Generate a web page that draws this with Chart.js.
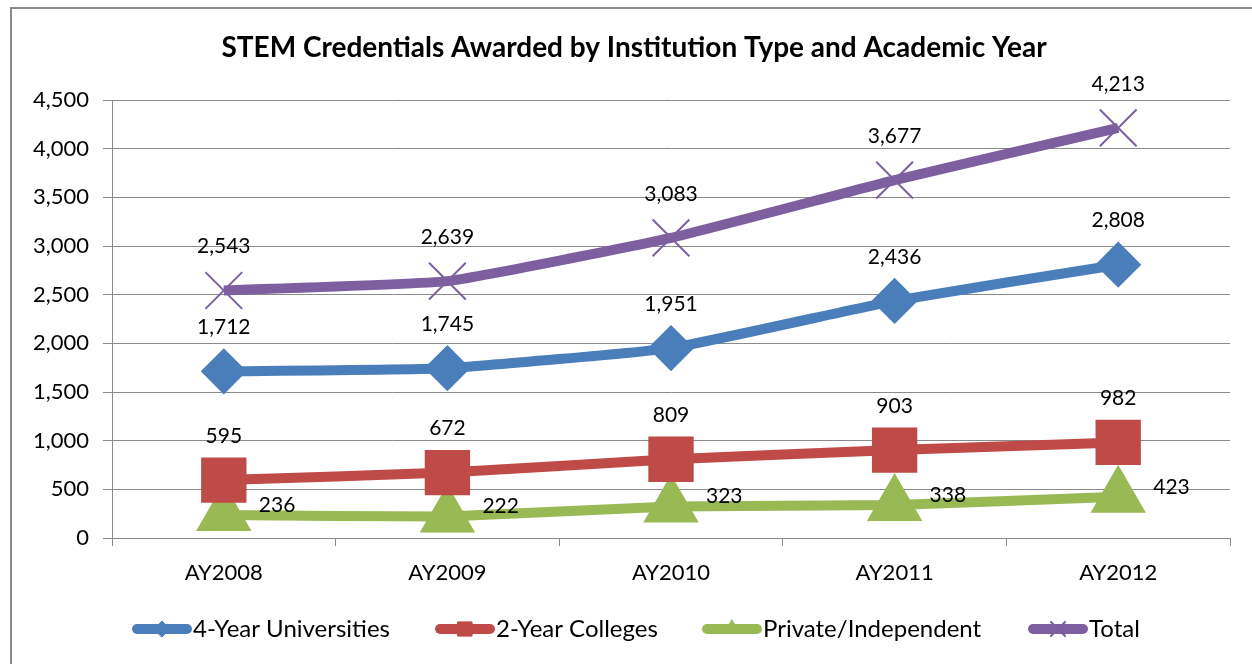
<!DOCTYPE html>
<html>
<head>
<meta charset="utf-8">
<script src="https://cdn.jsdelivr.net/npm/chart.js@4.4.1/dist/chart.umd.min.js"></script>
<style>
  body { margin: 0; background: #fff; }
  canvas { display: block; }
</style>
</head>
<body>
<canvas id="stemChart" width="1252" height="664"></canvas>
<script>
const years = ['AY2008', 'AY2009', 'AY2010', 'AY2011', 'AY2012'];
const fourYear = [1712, 1745, 1951, 2436, 2808];
const twoYear = [595, 672, 809, 903, 982];
const privateInd = [236, 222, 323, 338, 423];
const total = [2543, 2639, 3083, 3677, 4213];
const yTicks = [0, 500, 1000, 1500, 2000, 2500, 3000, 3500, 4000, 4500];

const FONT = 'Lato, "Open Sans", sans-serif';
const fmt = (v) => v.toLocaleString('en-US');

// frame, title, data labels and legend drawn by hand (Excel look)
const excelBits = {
    id: 'excelBits',
    beforeDraw: function(chart){
        const ctx = chart.ctx;
        ctx.save();
        ctx.strokeStyle = '#8a8a8a';
        ctx.lineWidth = 2;
        ctx.strokeRect(11, 8, 1300, 700);
        ctx.fillStyle = '#000';
        ctx.font = 'bold 28px ' + FONT;
        ctx.textAlign = 'center';
        ctx.textBaseline = 'middle';
        ctx.fillText('STEM Credentials Awarded by Institution Type and Academic Year', 634, 48);
        ctx.restore();
    },
    afterDatasetsDraw: function(chart){
        const ctx = chart.ctx;
        ctx.save();
        ctx.font = '21px ' + FONT;
        ctx.textBaseline = 'middle';
        chart.data.datasets.forEach((ds, i) => {
            const meta = chart.getDatasetMeta(i);
            meta.data.forEach((pt, j) => {
                const txt = fmt(ds.data[j]);
                ctx.fillStyle = '#000';
                if (ds.labelSide === 'right') {
                    ctx.textAlign = 'left';
                    ctx.fillText(txt, pt.x + 35, pt.y - 10);
                } else {
                    ctx.textAlign = 'center';
                    ctx.fillText(txt, pt.x, pt.y - 44);
                }
            });
        });

        // legend
        const ly = 629;
        const starts = [132, 435, 702, 1028];
        ctx.font = '24px ' + FONT;
        ctx.textAlign = 'left';
        chart.data.datasets.forEach((ds, i) => {
            const x0 = starts[i];
            ctx.strokeStyle = ds.borderColor;
            ctx.fillStyle = ds.borderColor;
            ctx.lineWidth = 10;
            ctx.lineCap = 'round';
            ctx.beginPath();
            ctx.moveTo(x0 + 5, ly);
            ctx.lineTo(x0 + 55, ly);
            ctx.stroke();
            ctx.lineWidth = ds.pointBorderWidth || 1;
            Chart.helpers.drawPoint(ctx, {
                pointStyle: ds.pointStyle,
                radius: ds.legendRadius,
                borderWidth: ds.pointBorderWidth || 1
            }, x0 + 30, ly);
            ctx.fillStyle = '#000';
            ctx.fillText(ds.label, x0 + 61, ly);
        });
        ctx.restore();
    }
};

const ctx = document.getElementById('stemChart').getContext('2d');

new Chart(ctx, {
    type: 'line',
    data: {
        labels: years,
        datasets: [
            {
                label: '4-Year Universities',
                data: fourYear,
                borderColor: '#4a7ebb',
                backgroundColor: '#4a7ebb',
                pointStyle: 'rectRot',
                pointRadius: 16,
                legendRadius: 8,
                labelSide: 'top'
            },
            {
                label: '2-Year Colleges',
                data: twoYear,
                borderColor: '#be4b48',
                backgroundColor: '#be4b48',
                pointStyle: 'rect',
                pointRadius: 25,
                legendRadius: 10,
                labelSide: 'top'
            },
            {
                label: 'Private/Independent',
                data: privateInd,
                borderColor: '#98b954',
                backgroundColor: '#98b954',
                pointStyle: 'triangle',
                pointRadius: 22,
                legendRadius: 9,
                labelSide: 'right'
            },
            {
                label: 'Total',
                data: total,
                borderColor: '#7d5fa0',
                backgroundColor: '#7d5fa0',
                pointStyle: 'crossRot',
                pointRadius: 26,
                pointBorderWidth: 2,
                legendRadius: 10,
                labelSide: 'top'
            }
        ].map((d) => Object.assign({
            borderWidth: 10,
            tension: 0.12,
            fill: false,
            pointHoverRadius: d.pointRadius
        }, d))
    },
    options: {
        responsive: false,
        animation: false,
        layout: {
            autoPadding: false,
            padding: { top: 100, right: 22, bottom: 76, left: 0 }
        },
        plugins: {
            legend: { display: false },
            title: { display: false },
            tooltip: { enabled: false }
        },
        scales: {
            x: {
                offset: true,
                grid: {
                    display: true,
                    drawOnChartArea: false,
                    offset: true,
                    tickLength: 8,
                    color: '#8a8a8a'
                },
                border: { color: '#8a8a8a', width: 1 },
                ticks: {
                    color: '#000',
                    padding: 14,
                    font: { family: FONT, size: 22 }
                },
                afterFit: function(scale){
                    scale.height = 50;
                    scale.paddingLeft = 0;
                    scale.paddingRight = 0;
                }
            },
            y: {
                min: 0,
                max: 4500,
                afterBuildTicks: function(scale){
                    scale.ticks = yTicks.map((v) => ({ value: v }));
                },
                grid: {
                    color: '#8a8a8a',
                    tickLength: 9
                },
                border: { color: '#8a8a8a', width: 1 },
                ticks: {
                    color: '#000',
                    padding: 14,
                    font: { family: FONT, size: 22 },
                    callback: (v) => fmt(v)
                },
                afterFit: function(scale){
                    scale.width = 112;
                    scale.paddingTop = 0;
                    scale.paddingBottom = 0;
                }
            }
        }
    },
    plugins: [excelBits]
});
</script>
</body>
</html>
